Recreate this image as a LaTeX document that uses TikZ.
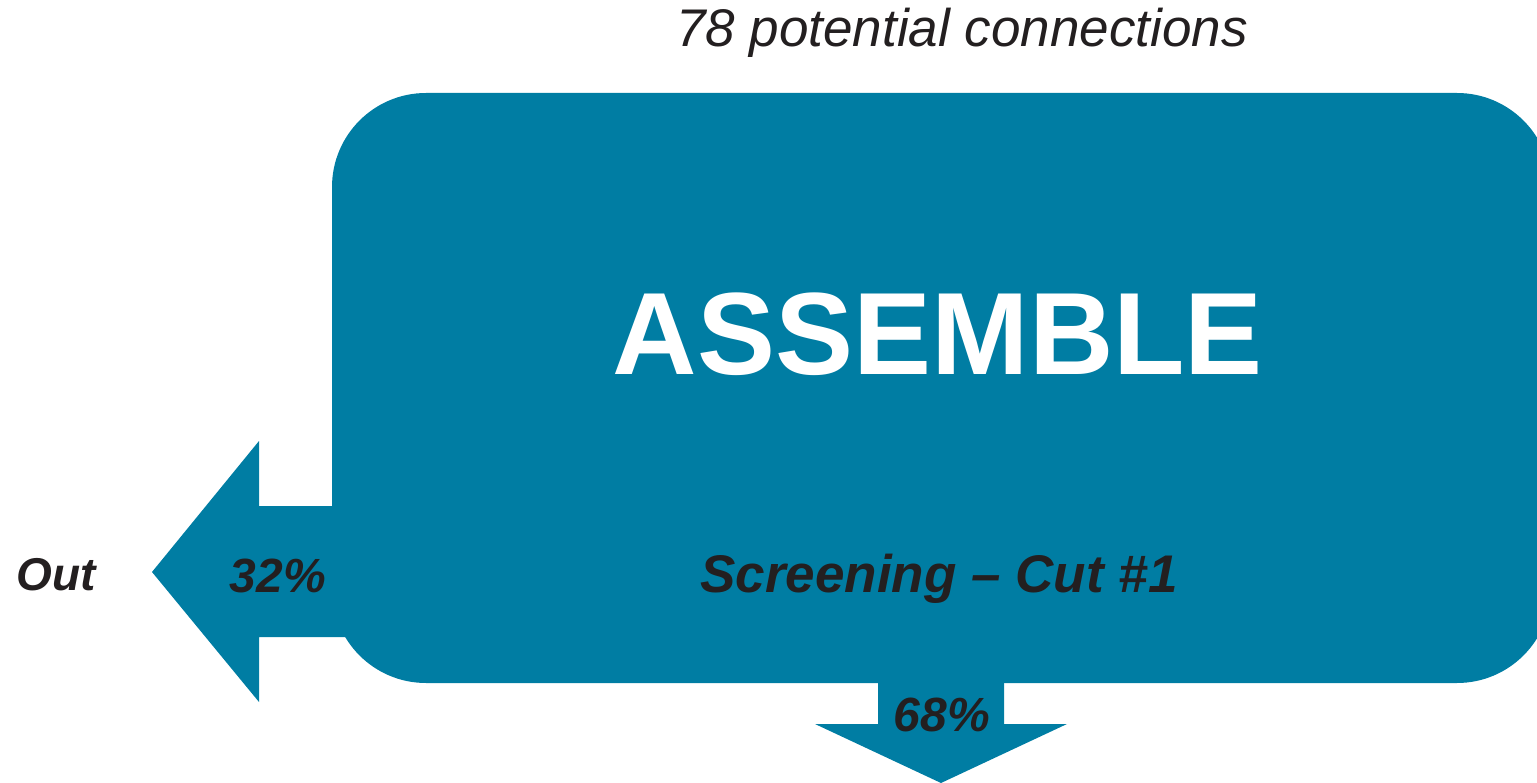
\documentclass[tikz,border=0pt]{standalone}
\usepackage{fontspec}
\setmainfont{Liberation Sans}
\definecolor{teal}{HTML}{007DA3}
\definecolor{ink}{HTML}{231F20}
\tikzset{
  shapefill/.style={fill=teal, draw=none},
  bi/.style={font=\fontsize{#1}{#1}\selectfont\bfseries\itshape, text=ink, inner sep=0pt, anchor=base},
  it/.style={font=\fontsize{#1}{#1}\selectfont\itshape, text=ink, inner sep=0pt, anchor=base},
}
\begin{document}
\begin{tikzpicture}[x=1pt,y=-1pt]
\useasboundingbox (0,0) rectangle (1537,783);
\clip (0,0) rectangle (1537,783);
% main rounded box
\fill[shapefill, rounded corners=94pt] (332,93) rectangle (1551,683);
% left arrow (Out)
\fill[shapefill] (360,506) -- (259,506) -- (259,441) -- (152,572) -- (259,702) -- (259,637) -- (360,637) -- cycle;
% bottom arrow
\fill[shapefill] (878,670) -- (878,724) -- (815,724) -- (941,783) -- (1067,724) -- (1004,724) -- (1004,670) -- cycle;
% texts
\node[it=53] (title) at (962,47) {78 potential connections};
\node[font=\fontsize{117}{117}\selectfont\bfseries, text=white, inner sep=0pt, anchor=base] (assemble) at (938,375) {ASSEMBLE};
\node[bi=53] (screen) at (939,592) {Screening – Cut \#1};
\node[bi=46] (out) at (56,590) {Out};
\node[bi=48] (p32) at (278,592) {32\%};
\node[bi=48] (p68) at (942,731) {68\%};
\end{tikzpicture}
\end{document}
